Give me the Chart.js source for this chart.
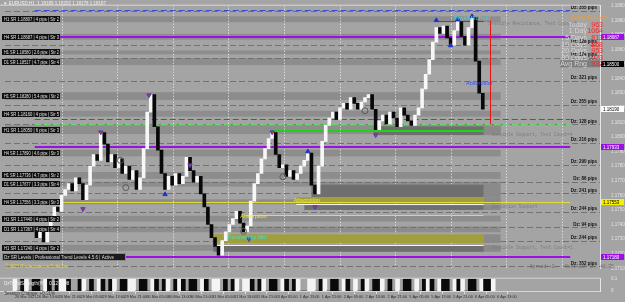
<!DOCTYPE html>
<html>
<head>
<meta charset="utf-8">
<title>EURUSD,H1</title>
<script src="https://cdn.jsdelivr.net/npm/chart.js@4.4.1/dist/chart.umd.min.js"></script>
<style>
  html, body { margin: 0; padding: 0; background: #a4a4a4; overflow: hidden; }
  #wrap { position: relative; width: 625px; height: 302px; }
  #main { position: absolute; left: 0; top: 0; }
  #sub { position: absolute; left: 0; top: 273px; }
</style>
</head>
<body>
<div id="wrap">
  <canvas id="main" width="625" height="274"></canvas>
  <canvas id="sub" width="625" height="29"></canvas>
</div>
<script>
// --- data ---
const symbolInfo = 'EURUSD,H1  1.18189 1.18202 1.18178 1.18187';
const firstOpen = 1.1738;
const closes = [
  1.1731, 1.1735, 1.1728, 1.1737, 1.1743, 1.1752, 1.1749, 1.1760, 1.1764, 1.1768,
  1.1763, 1.1772, 1.1768, 1.1757, 1.1767, 1.1780, 1.1788, 1.1784, 1.1803, 1.1795,
  1.1783, 1.1788, 1.1779, 1.1785, 1.1775, 1.1780, 1.1771, 1.1777, 1.1764, 1.1772,
  1.1792, 1.1817, 1.1829, 1.1807, 1.1791, 1.1775, 1.1764, 1.1773, 1.1767, 1.1775,
  1.1768, 1.1773, 1.1786, 1.1777, 1.1769, 1.1773, 1.1761, 1.1752, 1.1740, 1.1731,
  1.1725, 1.1719, 1.1729, 1.1735, 1.1740, 1.1744, 1.1749, 1.1741, 1.1735, 1.1739,
  1.1756, 1.1768, 1.1775, 1.1785, 1.1792, 1.1799, 1.1803, 1.1788, 1.1779, 1.1781,
  1.1773, 1.1777, 1.1771, 1.1775, 1.1780, 1.1784, 1.1789, 1.1767, 1.1761, 1.1780,
  1.1797, 1.1808, 1.1813, 1.1817, 1.1812, 1.1820, 1.1823, 1.1819, 1.1827, 1.1823,
  1.1819, 1.1824, 1.1827, 1.1829, 1.1819, 1.1805, 1.1811, 1.1815, 1.1809, 1.1817,
  1.1813, 1.1807, 1.1820, 1.1815, 1.1811, 1.1808, 1.1815, 1.1820, 1.1833, 1.1843,
  1.1853, 1.1865, 1.1875, 1.1871, 1.1876, 1.1868, 1.1863, 1.1873, 1.1879, 1.1869,
  1.1863, 1.1875, 1.1882, 1.1852, 1.1830, 1.1819
];
const totalSlots = 150;

// indicator sub-window: 1 = white bar, -1 = black bar, 0 = empty
const strength = [
  1, 0, -1, 1, 0, -1, -1, 0, 1, -1,
  0, -1, 1, 1, -1, 0, 0, -1, 1, 0,
  -1, 0, 1, -1, 0, -1, 1, 0, -1, -1,
  1, 1, 0, -1, -1, 0, 1, -1, 0, -1,
  1, 0, -1, 1, -1, 0, -1, -1, 0, 1,
  -1, 0, 1, 1, 0, -1, 0, -1, 1, 0,
  1, 1, -1, 0, -1, 1, 0, -1, -1, 0,
  1, -1, 0, -1, 1, 0, 0, 1, 1, 0,
  -1, 1, 0, -1, -1, 0, 1, -1, 0, 1,
  0, -1, 1, 0, -1, -1, 1, 0, -1, 0,
  1, 0, -1, -1, 0, 1, 0, -1, 1, -1,
  0, 1, -1, -1, 0, 1, -1, 1, 0, -1,
  -1, 0, 1, -1, -1, 1
];

const dateLabels = [
  '26 Mar 2021', '26 Mar 13:00', '26 Mar 21:00', '29 Mar 05:00', '29 Mar 13:00', '29 Mar 21:00',
  '30 Mar 05:00', '30 Mar 13:00', '30 Mar 21:00', '31 Mar 05:00', '31 Mar 13:00', '31 Mar 21:00',
  '1 Apr 05:00', '1 Apr 13:00', '1 Apr 21:00', '2 Apr 05:00', '2 Apr 13:00', '2 Apr 21:00',
  '5 Apr 05:00', '5 Apr 13:00', '5 Apr 21:00', '6 Apr 05:00', '6 Apr 13:00'
];

// support / resistance zones
const zoneHi = [1.18827, 1.18707, 1.18593, 1.18540, 1.18307, 1.18180, 1.18080, 1.17913, 1.17760, 1.17693, 1.17573, 1.17460, 1.17387, 1.17260];
const zoneLo = [1.18787, 1.18667, 1.18567, 1.18493, 1.18253, 1.18140, 1.18020, 1.17867, 1.17713, 1.17660, 1.17540, 1.17420, 1.17347, 1.17220];
const zoneTf = ['H1', 'H4', 'H1', 'D1', 'H1', 'H4', 'H1', 'H4', 'H1', 'D1', 'H4', 'H1', 'D1', 'H1'];
const zoneStr = [2, 3, 2, 4, 2, 5, 3, 3, 2, 4, 3, 2, 4, 2];

// distance labels on the right
const dzP = [1.18867, 1.18633, 1.18540, 1.18387, 1.18220, 1.18087, 1.17960, 1.17807, 1.17693, 1.17613, 1.17487, 1.17380, 1.17287, 1.17113];
const dzPips = [355, 128, 174, 321, 355, 128, 216, 290, 86, 241, 244, 94, 244, 352];

// shaded boxes (from candle, to candle, hi, lo, kind)
const boxFrom = [94.5, 77, 72.75, 75, 49.5, 49.5];
const boxTo = [125.25, 125.25, 125.25, 125.25, 125.25, 125.25];
const boxHi = [1.18073, 1.17673, 1.17587, 1.17533, 1.17333, 1.17253];
const boxLo = [1.18013, 1.17587, 1.17547, 1.17500, 1.17273, 1.17213];
const boxKind = ['dark', 'dark', 'olive', 'dark', 'olive', 'dark'];

// horizontal lines (price, from candle, to candle, kind)
const lineP = [1.18873, 1.18120, 1.18087, 1.18040, 1.18687, 1.17933, 1.17180, 1.17553, 1.17467, 1.17540, 1.17260, 1.18793];
const lineFrom = [-0.5, -0.5, -0.5, 66, -0.5, -0.5, -0.5, -0.5, 58.75, 72.75, 49.5, 112];
const lineTo = [149.5, 149.5, 149.5, 125.25, 149.5, 149.5, 149.5, 149.5, 125.25, 125.25, 125.25, 125.25];
const lineKind = ['blue', 'blue', 'greenDot', 'green', 'purple', 'purple', 'purple', 'yellow', 'yellow', 'white', 'white', 'red'];

// red vertical marker
const redVertIdx = 127;
const redVertHi = 1.18800;
const redVertLo = 1.18087;

// arrows and circles
const markIdx = [13, 18, 31.5, 36, 43, 59.5, 66, 76, 78, 95, 112, 116, 118, 122, 25, 23.5, 69, 58, 92];
const markP = [1.17507, 1.18033, 1.18287, 1.17607, 1.17807, 1.17300, 1.18033, 1.17900, 1.17520, 1.18013, 1.18800, 1.18627, 1.18807, 1.18827, 1.17653, 1.17840, 1.17727, 1.17353, 1.18180];
const markKind = ['sell', 'sell', 'sell', 'buy', 'sell', 'sell', 'sell', 'buy', 'sell', 'sell', 'buy', 'buy', 'buy', 'buy', 'ring', 'ring', 'ring', 'ring', 'ring'];

// chart texts
const annText = ['Pivot/Mkt Hold', 'Absorption', 'Absorption', 'Persistency Mkt', 'Absorption'];
const annIdx = [122, 124, 60.75, 59, 75.75];
const annP = [1.18813, 1.18367, 1.17453, 1.17313, 1.17567];
const annKind = ['cyan', 'blue', 'yellow', 'cyan', 'yellow'];

const noteText = ['Sensible Resistance, Test Count=5', 'Sensible Support, Test Count=4', 'Variation Support', 'Sensible Support, Test Count=1'];
const noteIdx = [126.5, 127.5, 127.5, 127.5];
const noteP = [1.18773, 1.18013, 1.17520, 1.17240];

// tags on the price axis
const tagP = [1.18687, 1.18500, 1.17933, 1.17553, 1.17180];
const tagKind = ['purple', 'black', 'purple', 'yellow', 'purple'];

// daily range panel
const rangeLabels = ['Today', '1 Day', '5 Days', '10 Days', '20 Days', '30 Days', 'Avg Rng'];
const rangeValues = [963, 1064, 813, 868, 953, 1023, 932];

const FONT = 'Liberation Sans';
const MONO = 'Liberation Mono';

const candleData = closes.map((c, i) => ({ x: i, y: [i ? closes[i - 1] : firstOpen, c] }));
const candleColors = closes.map((c, i) => c >= (i ? closes[i - 1] : firstOpen) ? '#f7f7f7' : '#080808');

const lineStyle = {
  blue: { color: '#3d4fd8', dash: [6, 3], width: 1 },
  greenDot: { color: '#5fe05f', dash: [4, 2, 1, 2], width: 1 },
  green: { color: '#1fd21f', dash: [], width: 2 },
  purple: { color: '#9b10e6', dash: [], width: 2 },
  yellow: { color: '#e3dd3a', dash: [], width: 1 },
  white: { color: '#f4f4f4', dash: [], width: 1 },
  red: { color: '#ee1111', dash: [], width: 1 }
};
const boxColor = { dark: '#6f6f6f', olive: '#a19e3c' };
const annColor = { cyan: '#2fe3e3', blue: '#3553ff', yellow: '#f2e63a' };
const tagStyle = {
  purple: ['#9b10e6', '#ffffff'],
  black: ['#000000', '#ffffff'],
  yellow: ['#f4f000', '#000000'],
  white: ['#ffffff', '#000000']
};

function hline(ctx, x1, x2, py) {
  ctx.beginPath();
  ctx.moveTo(x1, py);
  ctx.lineTo(x2, py);
  ctx.stroke();
}

const overlay = {
  id: 'overlay',
  beforeDatasetsDraw(chart) {
    const { ctx, chartArea: a, scales: { x, y } } = chart;
    ctx.save();
    ctx.beginPath();
    ctx.rect(a.left, a.top, a.right - a.left, a.bottom - a.top);
    ctx.clip();

    // zone bands
    const zEnd = x.getPixelForValue(130);
    ctx.fillStyle = '#8d8d8d';
    zoneHi.forEach((hi, k) => {
      const y1 = y.getPixelForValue(hi), y2 = y.getPixelForValue(zoneLo[k]);
      ctx.fillRect(a.left, y1, zEnd - a.left, y2 - y1);
    });

    // dotted vertical grid from the x scale ticks
    ctx.strokeStyle = '#f0f0f0';
    ctx.lineWidth = 1;
    ctx.setLineDash([1, 2]);
    x.ticks.forEach(t => {
      const gx = Math.round(x.getPixelForValue(t.value)) + 0.5;
      ctx.beginPath();
      ctx.moveTo(gx, a.top);
      ctx.lineTo(gx, a.bottom);
      ctx.stroke();
    });

    // dashed distance lines
    ctx.strokeStyle = '#727272';
    ctx.setLineDash([6, 3]);
    dzP.forEach(p => hline(ctx, a.left, a.right, Math.round(y.getPixelForValue(p)) + 0.5));
    ctx.setLineDash([]);

    // shaded boxes
    boxHi.forEach((hi, k) => {
      const x1 = x.getPixelForValue(boxFrom[k]), x2 = x.getPixelForValue(boxTo[k]);
      const y1 = y.getPixelForValue(hi), y2 = y.getPixelForValue(boxLo[k]);
      ctx.fillStyle = '#8a8a8a';
      ctx.fillRect(x2, y1, zEnd - x2, y2 - y1);
      ctx.fillStyle = boxColor[boxKind[k]];
      ctx.fillRect(x1, y1, x2 - x1, y2 - y1);
    });

    // horizontal lines
    lineP.forEach((p, k) => {
      const st = lineStyle[lineKind[k]];
      ctx.strokeStyle = st.color;
      ctx.lineWidth = st.width;
      ctx.setLineDash(st.dash);
      const py = Math.round(y.getPixelForValue(p)) + (st.width === 1 ? 0.5 : 0);
      hline(ctx, x.getPixelForValue(lineFrom[k]), x.getPixelForValue(lineTo[k]), py);
    });
    ctx.setLineDash([]);

    // red vertical
    ctx.strokeStyle = '#ee1111';
    ctx.lineWidth = 1;
    const rx = Math.round(x.getPixelForValue(redVertIdx)) + 0.5;
    ctx.beginPath();
    ctx.moveTo(rx, y.getPixelForValue(redVertHi));
    ctx.lineTo(rx, y.getPixelForValue(redVertLo));
    ctx.stroke();
    ctx.restore();
  },
  afterDraw(chart) {
    const { ctx, chartArea: a, scales: { x, y } } = chart;
    ctx.save();
    ctx.textBaseline = 'middle';

    // zone labels on the left
    ctx.font = `4.5px ${FONT}`;
    zoneHi.forEach((hi, k) => {
      const mid = (hi + zoneLo[k]) / 2;
      const py = Math.round(y.getPixelForValue(mid));
      ctx.fillStyle = '#111111';
      ctx.fillRect(2, py - 3, 58, 6);
      ctx.fillStyle = '#e4e4e4';
      const pips = Math.round((hi - zoneLo[k]) * 10000 * 10) / 10;
      ctx.fillText(`${zoneTf[k]} SR ${mid.toFixed(5)} | ${pips} pips | Str ${zoneStr[k]}`, 4, py + 0.5, 55);
    });

    // long indicator box bottom left
    const ly = Math.round(y.getPixelForValue(1.17180));
    ctx.fillStyle = '#1c1c1c';
    ctx.fillRect(2, ly - 3, 123, 6);
    ctx.strokeStyle = '#8a8a8a';
    ctx.strokeRect(2.5, ly - 3.5, 123, 7);
    ctx.fillStyle = '#dcdcdc';
    ctx.fillText('Dz SR Levels | Professional Trend Levels 4.5.6 | Active', 4, ly + 0.5, 119);
    ctx.fillStyle = '#e2d23a';
    ctx.fillText('\u00a9 2021 Tradepatterns Software', 5, ly + 10);

    // chart annotations
    ctx.font = `5.5px ${FONT}`;
    ctx.textAlign = 'center';
    annText.forEach((t, k) => {
      ctx.fillStyle = annColor[annKind[k]];
      ctx.fillText(t, x.getPixelForValue(annIdx[k]), y.getPixelForValue(annP[k]));
    });
    ctx.textAlign = 'left';
    ctx.font = `4.5px ${MONO}`;
    ctx.fillStyle = '#7c7c7c';
    noteText.forEach((t, k) => ctx.fillText(t, x.getPixelForValue(noteIdx[k]), y.getPixelForValue(noteP[k])));

    // distance labels
    ctx.font = `bold 4.5px ${FONT}`;
    ctx.textAlign = 'right';
    ctx.fillStyle = '#111111';
    dzP.forEach((p, k) => ctx.fillText(`Dz: ${dzPips[k]} pips`, a.right - 3, y.getPixelForValue(p) - 3));

    // price tags on the axis
    ctx.font = `4.5px ${FONT}`;
    ctx.textAlign = 'left';
    const drawTag = (p, kind) => {
      const py = Math.round(y.getPixelForValue(p));
      const [bg, fg] = tagStyle[kind];
      ctx.fillStyle = bg;
      ctx.fillRect(a.right + 1, py - 3, 23, 6);
      ctx.fillStyle = fg;
      ctx.fillText(p.toFixed(5), a.right + 3, py + 0.5);
    };
    tagP.forEach((p, k) => drawTag(p, tagKind[k]));
    drawTag(closes[closes.length - 1], 'white');

    // daily range panel (drawn over the tags)
    ctx.font = `7px ${FONT}`;
    ctx.textBaseline = 'alphabetic';
    ctx.fillStyle = '#ff9a1f';
    ctx.textAlign = 'left';
    ctx.fillText('Daily Range', a.right - 30, a.top + 14);
    rangeLabels.forEach((l, k) => {
      const ry = a.top + 21 + k * 6.6;
      if (k === rangeLabels.length - 1) {
        ctx.fillStyle = '#7e7e7e';
        ctx.fillRect(a.right - 40, ry - 6, 40, 7);
      }
      ctx.textAlign = 'right';
      ctx.fillStyle = '#d6d6d6';
      ctx.fillText(l, a.right - 13, ry);
      ctx.fillStyle = '#ff2222';
      ctx.fillText(String(rangeValues[k]), a.right + 3, ry);
    });

    // symbol line
    ctx.textBaseline = 'middle';
    ctx.textAlign = 'left';
    ctx.font = `4.5px ${FONT}`;
    ctx.fillStyle = '#f2f2f2';
    ctx.fillText('\u25bc ' + symbolInfo, 3, 4);

    // spread text
    ctx.fillStyle = '#6a6a6a';
    ctx.font = `4.5px ${MONO}`;
    ctx.fillText('Spread: 2.   Next Bar in: 41:35', 530, a.bottom - 1);

    // frame
    ctx.strokeStyle = '#d8d8d8';
    ctx.lineWidth = 1;
    hline(ctx, 0, a.right, a.top - 0.5);
    ctx.restore();
  }
};

Chart.defaults.font.family = FONT;

new Chart(document.getElementById('main'), {
  type: 'bar',
  data: {
    datasets: [
      {
        label: 'EURUSD',
        data: candleData,
        backgroundColor: candleColors,
        borderWidth: 0,
        barThickness: 3,
        minBarLength: 1,
        order: 2
      },
      {
        type: 'scatter',
        label: 'signals',
        data: markIdx.map((v, k) => ({ x: v, y: markP[k] })),
        pointStyle: markKind.map(m => m === 'ring' ? 'circle' : 'triangle'),
        rotation: markKind.map(m => m === 'sell' ? 180 : 0),
        pointRadius: markKind.map(m => m === 'ring' ? 3 : 2.5),
        backgroundColor: markKind.map(m => m === 'sell' ? '#ee2222' : m === 'buy' ? '#2233cc' : 'rgba(0,0,0,0)'),
        borderColor: markKind.map(m => m === 'sell' ? '#3344dd' : m === 'buy' ? '#2233cc' : '#5a5a5a'),
        borderWidth: 1,
        order: 1
      }
    ]
  },
  options: {
    responsive: false,
    animation: false,
    devicePixelRatio: 1,
    layout: { padding: { top: 3, left: 0, right: 0, bottom: 1 } },
    plugins: { legend: { display: false }, tooltip: { enabled: false } },
    scales: {
      x: {
        type: 'linear',
        min: -0.5,
        max: totalSlots - 0.5,
        afterFit: s => { s.height = 0; },
        afterBuildTicks: s => {
          const t = [];
          for (let v = 7; v < totalSlots; v += 15.575) t.push({ value: v });
          s.ticks = t;
        },
        ticks: { display: false },
        grid: { display: false },
        border: { display: false }
      },
      y: {
        position: 'right',
        min: 1.1710,
        max: 1.1890,
        afterFit: s => { s.width = 25; },
        afterBuildTicks: s => {
          const t = [];
          for (let k = 0; k <= 18; k++) t.push({ value: +(1.1710 + k * 0.001).toFixed(4) });
          s.ticks = t;
        },
        ticks: { color: '#e4e4e4', font: { size: 4.5 }, padding: 3, callback: v => v.toFixed(5) },
        grid: { display: false },
        border: { color: '#e6e6e6' }
      }
    }
  },
  plugins: [overlay]
});

const subOverlay = {
  id: 'subOverlay',
  afterDraw(chart) {
    const { ctx, chartArea: a } = chart;
    ctx.save();
    ctx.strokeStyle = '#d6d6d6';
    ctx.lineWidth = 1;
    hline(ctx, 0, a.right, a.top - 0.5);
    hline(ctx, 0, a.right, a.bottom + 0.5);
    ctx.font = `4.5px ${FONT}`;
    ctx.textBaseline = 'middle';
    ctx.fillStyle = '#f0f0f0';
    ctx.fillText('DzTrendStrength(H1)  0.12  0.08', 4, a.top + 5);
    ctx.fillStyle = '#3a3a3a';
    ctx.fillText('Session Change: +0.31%', 4, a.bottom + 3);
    ctx.restore();
  }
};

new Chart(document.getElementById('sub'), {
  type: 'bar',
  data: {
    datasets: [{
      label: 'strength',
      data: strength.map((c, i) => ({ x: i, y: c ? 1 : 0, c })),
      backgroundColor: ctx => ctx.raw && ctx.raw.c > 0 ? '#f4f4f4' : '#0a0a0a',
      borderWidth: 0,
      barThickness: 4
    }]
  },
  options: {
    responsive: false,
    animation: false,
    devicePixelRatio: 1,
    layout: { padding: { top: 3, left: 0, right: 0, bottom: 0 } },
    plugins: { legend: { display: false }, tooltip: { enabled: false } },
    scales: {
      x: {
        type: 'linear',
        min: -0.5,
        max: totalSlots - 0.5,
        afterFit: s => { s.height = 11; },
        afterBuildTicks: s => { s.ticks = dateLabels.map((d, k) => ({ value: k * 5.727 })); },
        ticks: {
          align: 'start',
          color: '#2a2a2a',
          font: { size: 3.8 },
          padding: 1,
          maxRotation: 0,
          autoSkip: false,
          callback: (v, i) => dateLabels[i]
        },
        grid: { drawOnChartArea: false, tickLength: 3, color: '#e0e0e0' },
        border: { display: false }
      },
      y: {
        position: 'right',
        min: 0,
        max: 1,
        afterFit: s => { s.width = 25; },
        afterBuildTicks: s => { s.ticks = [{ value: 0 }, { value: 1 }]; },
        ticks: { color: '#e4e4e4', font: { size: 4.5 }, padding: 3, callback: v => v ? '0.1' : '0' },
        grid: { display: false },
        border: { color: '#e6e6e6' }
      }
    }
  },
  plugins: [subOverlay]
});
</script>
</body>
</html>
